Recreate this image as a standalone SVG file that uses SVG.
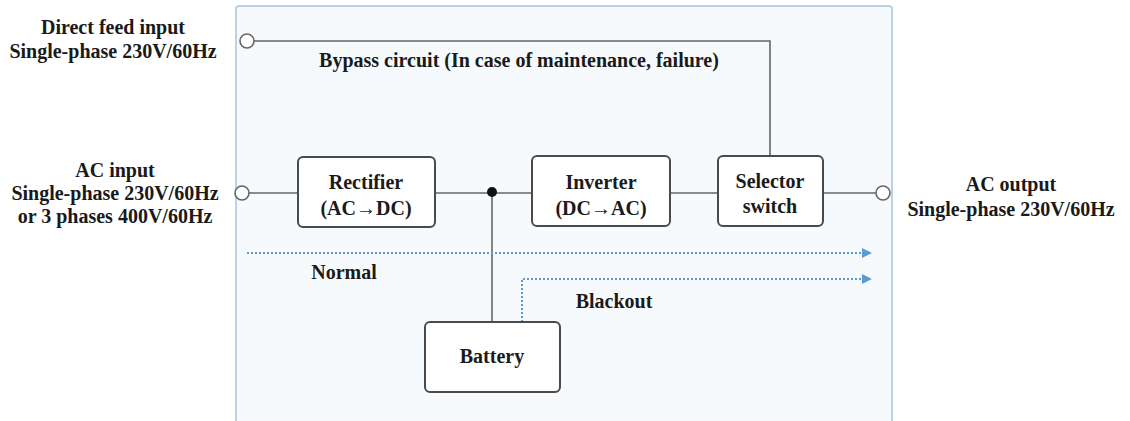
<svg xmlns="http://www.w3.org/2000/svg" width="1130" height="421" viewBox="0 0 1130 421">
<defs>
<style>
text{font-family:"Liberation Serif","Times New Roman",serif;font-weight:bold;font-size:20px;fill:#1a1a1a;text-anchor:middle}
.box{fill:#ffffff;stroke:#4a4a4a;stroke-width:2}
.wire{stroke:#666;stroke-width:1.6;fill:none}
.flow{stroke:#5b9bd5;stroke-width:2;stroke-dasharray:2 2;fill:none}
.term{fill:#fff;stroke:#666;stroke-width:1.6}
</style>
<marker id="arr" viewBox="0 0 10 10" refX="8" refY="5" markerWidth="5" markerHeight="5" orient="auto"><path d="M0,0L10,5L0,10z" fill="#5b9bd5"/></marker>
</defs>
<rect width="1130" height="421" fill="#ffffff"/>
<rect id="panel" x="236" y="6" width="656" height="420" rx="3" fill="#f7fafd" stroke="#a9c4e0" stroke-width="1.5"/>
<g id="connectors">
<path class="wire" d="M254,41H770V156"/>
<path class="wire" d="M249,193H298"/>
<path class="wire" d="M435,193H532"/>
<path class="wire" d="M670,193H718"/>
<path class="wire" d="M823,193H876"/>
<path class="wire" d="M492,193V322"/>
<circle cx="492" cy="192" r="5" fill="#111"/>
<path class="flow" d="M247,253H870" marker-end="url(#arr)"/>
<path class="flow" d="M522,322V279H870" marker-end="url(#arr)"/>
</g>
<g id="direct-feed"><circle class="term" cx="247" cy="41" r="7"/><text x="113" y="34">Direct feed input</text><text x="113" y="58">Single-phase 230V/60Hz</text></g>
<g id="ac-input"><circle class="term" cx="242" cy="193" r="7"/><text x="115" y="177">AC input</text><text x="115" y="200">Single-phase 230V/60Hz</text><text x="115" y="223">or 3 phases 400V/60Hz</text></g>
<g id="ac-output"><circle class="term" cx="883" cy="193" r="7"/><text x="1011" y="191">AC output</text><text x="1011" y="216">Single-phase 230V/60Hz</text></g>
<g id="bypass-label"><text x="519" y="67">Bypass circuit (In case of maintenance, failure)</text></g>
<g id="rectifier"><rect class="box" x="298" y="157" width="137" height="70" rx="5"/><text x="366" y="189">Rectifier</text><text x="366" y="215">(AC→DC)</text></g>
<g id="inverter"><rect class="box" x="532" y="156" width="138" height="70" rx="5"/><text x="601" y="189">Inverter</text><text x="601" y="215">(DC→AC)</text></g>
<g id="selector"><rect class="box" x="718" y="156" width="105" height="70" rx="5"/><text x="770" y="188">Selector</text><text x="770" y="213">switch</text></g>
<g id="battery"><rect class="box" x="425" y="322" width="135" height="70" rx="5"/><text x="492" y="363">Battery</text></g>
<g id="normal-label"><text x="344" y="279">Normal</text></g>
<g id="blackout-label"><text x="614" y="308">Blackout</text></g>
</svg>
